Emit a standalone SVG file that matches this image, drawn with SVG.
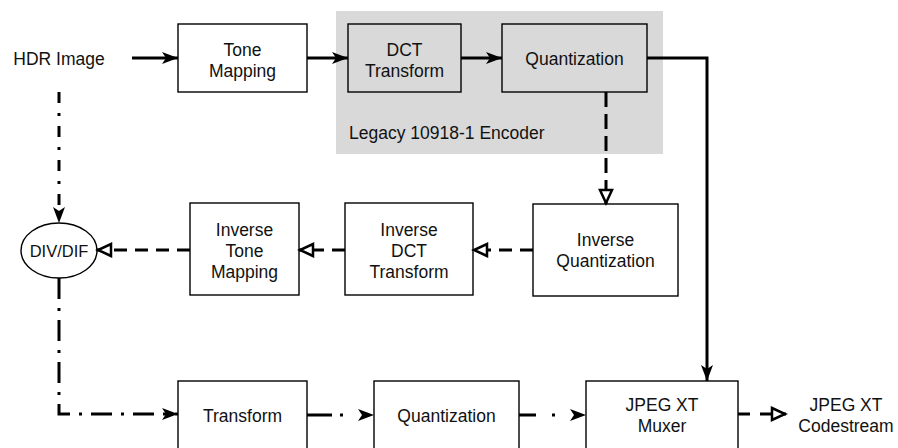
<svg xmlns="http://www.w3.org/2000/svg" width="898" height="448" viewBox="0 0 898 448">
  <style>
    .box { fill: #ffffff; stroke: #000000; stroke-width: 1.4; }
    .inner { fill: #d9d9d9; stroke: #000000; stroke-width: 1.4; }
    .lbl { font-family: "Liberation Sans", Arial, sans-serif; font-size: 17.5px; fill: #111111; text-anchor: middle; }
    .lbl-l { font-family: "Liberation Sans", Arial, sans-serif; font-size: 17.5px; fill: #111111; }
    .solid { fill: none; stroke: #000000; stroke-width: 3; marker-end: url(#head); }
    .dash { fill: none; stroke: #000000; stroke-width: 3; stroke-dasharray: 13 8; marker-end: url(#open); }
    .dashdot { fill: none; stroke: #000000; stroke-width: 3; marker-end: url(#head); }
  </style>
  <defs>
    <marker id="head" markerUnits="userSpaceOnUse" markerWidth="18" markerHeight="14" refX="17" refY="7" orient="auto">
      <path d="M1,1 L17,7 L1,13 L5,7 Z" fill="#000000"/>
    </marker>
    <marker id="open" markerUnits="userSpaceOnUse" markerWidth="18" markerHeight="16" refX="16" refY="8" orient="auto">
      <path d="M2,2 L15,8 L2,14 Z" fill="#ffffff" stroke="#000000" stroke-width="2.5" stroke-linejoin="miter"/>
    </marker>
  </defs>

  <rect width="898" height="448" fill="#ffffff"/>

  <!-- legacy encoder region -->
  <g id="legacy-encoder">
    <rect x="336" y="11" width="327" height="143" fill="#d9d9d9"/>
    <text class="lbl-l" x="349" y="139">Legacy 10918-1 Encoder</text>
  </g>

  <g id="hdr-image">
    <text class="lbl" x="59" y="65">HDR Image</text>
  </g>

  <g id="tone-mapping">
    <rect class="box" x="178" y="24" width="129" height="68"/>
    <text class="lbl" x="242.5" y="56">Tone</text>
    <text class="lbl" x="242.5" y="77">Mapping</text>
  </g>

  <g id="dct-transform">
    <rect class="inner" x="348" y="24" width="113" height="68"/>
    <text class="lbl" x="404.5" y="56">DCT</text>
    <text class="lbl" x="404.5" y="77">Transform</text>
  </g>

  <g id="quantization">
    <rect class="inner" x="502" y="24" width="145" height="68"/>
    <text class="lbl" x="574.5" y="65">Quantization</text>
  </g>

  <g id="div-dif">
    <ellipse cx="59" cy="250.5" rx="38" ry="27.5" fill="#ffffff" stroke="#000000" stroke-width="1.4"/>
    <text class="lbl" x="59" y="256.5" style="font-size:16.5px">DIV/DIF</text>
  </g>

  <g id="inverse-tone-mapping">
    <rect class="box" x="190" y="203" width="109" height="92"/>
    <text class="lbl" x="244.5" y="236">Inverse</text>
    <text class="lbl" x="244.5" y="257">Tone</text>
    <text class="lbl" x="244.5" y="278">Mapping</text>
  </g>

  <g id="inverse-dct">
    <rect class="box" x="345" y="203" width="128" height="92"/>
    <text class="lbl" x="409" y="236">Inverse</text>
    <text class="lbl" x="409" y="257">DCT</text>
    <text class="lbl" x="409" y="278">Transform</text>
  </g>

  <g id="inverse-quantization">
    <rect class="box" x="533" y="204" width="145" height="92"/>
    <text class="lbl" x="605.5" y="246">Inverse</text>
    <text class="lbl" x="605.5" y="267">Quantization</text>
  </g>

  <g id="transform">
    <rect class="box" x="178" y="381" width="129" height="90"/>
    <text class="lbl" x="242.5" y="422">Transform</text>
  </g>

  <g id="quantization-2">
    <rect class="box" x="374" y="381" width="145" height="90"/>
    <text class="lbl" x="446.5" y="422">Quantization</text>
  </g>

  <g id="muxer">
    <rect class="box" x="586" y="381" width="152" height="90"/>
    <text class="lbl" x="662" y="411">JPEG XT</text>
    <text class="lbl" x="662" y="432">Muxer</text>
  </g>

  <g id="codestream">
    <text class="lbl" x="846" y="411">JPEG XT</text>
    <text class="lbl" x="846" y="432">Codestream</text>
  </g>

  <!-- connectors -->
  <g id="connectors">
    <path class="solid" d="M132,58 H178"/>
    <path class="solid" d="M307,58 H348"/>
    <path class="solid" d="M461,58 H502"/>
    <path class="solid" d="M647,58 H707 V381"/>

    <path class="dash" d="M606,92 V204" style="stroke-dasharray:15 7"/>
    <path class="dash" d="M533,250 H473"/>
    <path class="dash" d="M345,250 H299"/>
    <path class="dash" d="M190,250 H97"/>
    <path class="dash" d="M738,414 H786" style="stroke-dasharray:12 10"/>

    <path class="dashdot" d="M59,92 V223" style="stroke-dasharray:11 10 3 10"/>
    <path class="dashdot" d="M59,278 V414 H178" style="stroke-dasharray:21 9 3 9"/>
    <path class="dashdot" d="M307,415 H374" style="stroke-dasharray:25 8 3 60"/>
    <path class="dashdot" d="M519,415 H586" style="stroke-dasharray:17 16 3 60"/>
  </g>
</svg>
